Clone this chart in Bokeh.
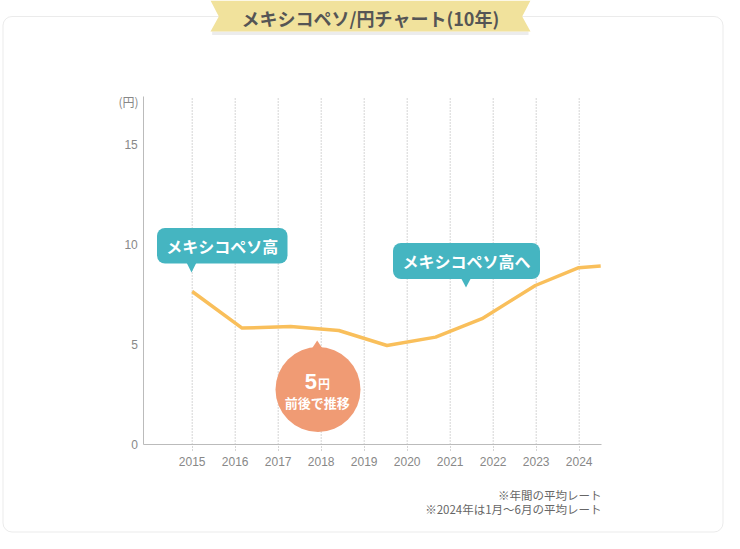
from bokeh.plotting import figure
from bokeh.models import Range1d, LinearAxis, FixedTicker, BoxAnnotation
from bokeh.core.properties import value
from bokeh.embed import file_html
from bokeh.resources import INLINE

# ---------------- data ----------------
title_text = "メキシコペソ/円チャート(10年)"
years = [2015, 2016, 2017, 2018, 2019, 2020, 2021, 2022, 2023, 2024]
year_labels = ["2015", "2016", "2017", "2018", "2019", "2020", "2021", "2022", "2023", "2024"]
y_ticks = [0, 5, 10, 15]
unit_label = "(円)"
line_x = [2015.0, 2016.16, 2017.29, 2018.41, 2019.53, 2020.66, 2021.74, 2022.98, 2023.99, 2024.5]
line_rate = [7.65, 5.82, 5.9, 5.7, 4.95, 5.37, 6.29, 7.95, 8.84, 8.92]
callout_texts = ["メキシコペソ高", "メキシコペソ高へ"]
bubble_big = "5"
bubble_unit = "円"
bubble_text = "前後で推移"
notes = ["※年間の平均レート", "※2024年は1月〜6月の平均レート"]

# ---------------- layout helpers (picture pixel -> data) ----------------
W, H = 724, 533
OFF = 0
PX_PER_YEAR = 43.0
X_ORIGIN_PX = 191.7
PX_PER_YEN = 20.0
Y_ZERO_PX = 444.0


def X(px):
    return years[0] + (px - X_ORIGIN_PX) / PX_PER_YEAR


def Y(py):
    return (Y_ZERO_PX - py) / PX_PER_YEN


JP = value("Noto Sans CJK JP")
NUM = value("Liberation Sans")
TEAL = "#45b5c1"
ORANGE = "#f09b74"
LINE = "#f9bf5b"
GRAY_TXT = "#888888"

p = figure(width=W, height=H,
           x_range=Range1d(X(OFF), X(OFF + W)),
           y_range=Range1d(Y(OFF + H), Y(OFF)),
           x_axis_type=None, y_axis_type=None,
           toolbar_location=None, output_backend="svg",
           min_border=0, outline_line_color=None,
           background_fill_color="white", border_fill_color="white")

# outer rounded border
p.add_layout(BoxAnnotation(left=X(2.5), right=X(722.5), top=Y(16), bottom=Y(531.5),
                           fill_color=None, line_color="#bdbdbd", line_width=1,
                           border_radius=9, level="underlay"))

# title banner
p.quad(left=[X(211.7)], right=[X(528)], top=[Y(31)], bottom=[Y(34.5)],
       fill_color="#ececec", line_color=None)
p.patch(x=[X(210), X(530), X(521.7), X(530), X(210), X(218.3)],
        y=[Y(0), Y(0), Y(16), Y(31), Y(31), Y(16)],
        fill_color="#f1e29c", line_color=None)
p.text(x=[X(370)], y=[Y(17)], text=[title_text], text_font=JP,
       text_font_style="bold", text_font_size="18px", text_color="#555555",
       text_align="center", text_baseline="middle")

# vertical dotted grid lines
n = len(years)
p.segment(x0=years, y0=[0] * n, x1=years, y1=[Y(97)] * n,
          line_color="#aaaaaa", line_dash="1 2", line_width=1)

# axes
yaxis = LinearAxis(fixed_location=X(143.3), bounds=(0, Y(96)),
                   ticker=FixedTicker(ticks=y_ticks),
                   major_tick_out=0, major_tick_in=0,
                   minor_tick_out=0, minor_tick_in=0,
                   axis_line_color="#bbbbbb",
                   major_label_text_color=GRAY_TXT,
                   major_label_text_font="Liberation Sans",
                   major_label_text_font_size="12px",
                   major_label_standoff=6)
p.add_layout(yaxis, "left")

xaxis = LinearAxis(fixed_location=0, bounds=(X(143.3), X(600.5)),
                   ticker=FixedTicker(ticks=years),
                   major_label_overrides={y: l for y, l in zip(years, year_labels)},
                   major_tick_out=6, major_tick_in=0,
                   major_tick_line_color="#aaaaaa", major_tick_line_dash="1 2",
                   minor_tick_out=0, minor_tick_in=0,
                   axis_line_color="#bbbbbb",
                   major_label_text_color=GRAY_TXT,
                   major_label_text_font="Liberation Sans",
                   major_label_text_font_size="12px",
                   major_label_standoff=6)
p.add_layout(xaxis, "below")

p.text(x=[X(138)], y=[Y(101)], text=[unit_label], text_font=JP,
       text_font_size="12px", text_color=GRAY_TXT,
       text_align="right", text_baseline="middle")

# data line
p.line(line_x, line_rate, line_color=LINE, line_width=3.5, line_join="round")

# teal callouts
p.add_layout(BoxAnnotation(left=X(156.5), right=X(287), top=Y(227.5), bottom=Y(263),
                           fill_color=TEAL, fill_alpha=1, line_color=None,
                           border_radius=8, level="annotation"))
p.patch(x=[X(186), X(196), X(191)], y=[Y(262), Y(262), Y(272)],
        fill_color=TEAL, line_color=None, level="annotation")
p.add_layout(BoxAnnotation(left=X(392.5), right=X(539.5), top=Y(242.5), bottom=Y(278.5),
                           fill_color=TEAL, fill_alpha=1, line_color=None,
                           border_radius=8, level="annotation"))
p.patch(x=[X(460.5), X(470.5), X(465.5)], y=[Y(277.5), Y(277.5), Y(287)],
        fill_color=TEAL, line_color=None, level="annotation")
p.text(x=[X(221.7), X(466)], y=[Y(245.5), Y(260.5)], text=callout_texts,
       text_font=JP, text_font_style="bold", text_font_size="16px",
       text_color="white", text_align="center", text_baseline="middle",
       level="overlay")

# orange bubble
p.scatter(x=[X(317.5)], y=[Y(389)], size=85, marker="circle",
          fill_color=ORANGE, line_color=None, level="annotation")
p.patch(x=[X(307.5), X(316.7), X(326)], y=[Y(354), Y(340), Y(354)],
        fill_color=ORANGE, line_color=None, level="annotation")
p.text(x=[X(316.5)], y=[Y(380.5)], text=[bubble_big], text_font=NUM,
       text_font_style="bold", text_font_size="22px", text_color="white",
       text_align="right", text_baseline="middle", level="overlay")
p.text(x=[X(317.5)], y=[Y(383)], text=[bubble_unit], text_font=JP,
       text_font_style="bold", text_font_size="12px", text_color="white",
       text_align="left", text_baseline="middle", level="overlay")
p.text(x=[X(316.7)], y=[Y(402)], text=[bubble_text], text_font=JP,
       text_font_style="bold", text_font_size="13px", text_color="white",
       text_align="center", text_baseline="middle", level="overlay")

# footnotes
p.text(x=[X(601), X(601)], y=[Y(494), Y(508)], text=notes, text_font=JP,
       text_font_size="11.5px", text_color="#666666",
       text_align="right", text_baseline="middle")

open("out.html", "w").write(file_html(p, INLINE))
